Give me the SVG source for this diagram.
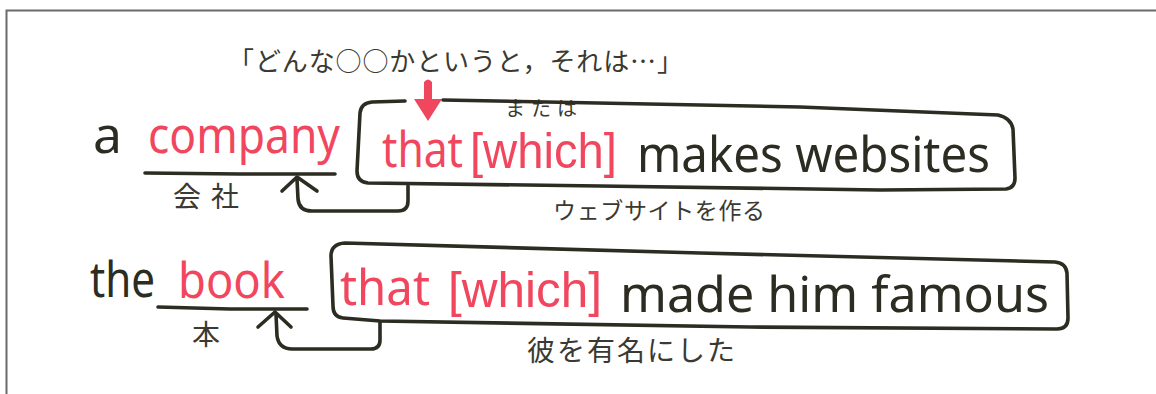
<svg xmlns="http://www.w3.org/2000/svg" width="1156" height="394" viewBox="0 0 1156 394">
<style>
.en{font-family:"Noto Sans","Liberation Sans",sans-serif;font-size:50px;}
.br{font-family:"Liberation Sans","Noto Sans",sans-serif;font-size:50px;}
.red{fill:#f0475f;}
.blk{fill:#2c2c22;}
.jp{font-family:"Noto Sans CJK JP","Noto Sans",sans-serif;fill:#3a3a32;}
.ln{fill:none;stroke:#2c2c22;stroke-width:3.6;stroke-linecap:round;stroke-linejoin:round;}
</style>
<rect x="0" y="0" width="1156" height="394" fill="#ffffff"/>
<rect x="6.5" y="10.5" width="1170" height="400" fill="none" stroke="#6a6a6a" stroke-width="2"/>

<g id="header">
<text class="jp" x="228" y="71" font-size="26" textLength="455" lengthAdjust="spacing">「どんな○○かというと，それは…」</text>
<path d="M424,82 Q428,77 432,82 L432,99 L442,99 L428,121 L414,99 L424,99 Z" fill="#f0475f"/>
</g>

<g id="row1-noun">
<text class="en blk" x="93" y="153" textLength="29" lengthAdjust="spacingAndGlyphs">a</text>
<text class="en red" x="148" y="153" textLength="192" lengthAdjust="spacingAndGlyphs">company</text>
<text class="jp" x="173" y="207" font-size="28" textLength="66" lengthAdjust="spacing">会社</text>
</g>

<g id="row1-clause">
<text class="en red" x="382" y="167" textLength="81" lengthAdjust="spacingAndGlyphs">that</text>
<text class="br red" x="470" y="168" textLength="147" lengthAdjust="spacingAndGlyphs">[which]</text>
<text class="en blk" x="637" y="172" textLength="353" lengthAdjust="spacingAndGlyphs">makes websites</text>
<text class="jp" x="505" y="116" font-size="20" textLength="72" lengthAdjust="spacing">または</text>
<text class="jp" x="553" y="219" font-size="23" textLength="212" lengthAdjust="spacing">ウェブサイトを作る</text>
</g>

<g id="row2-noun">
<text class="en blk" x="90" y="297" textLength="65" lengthAdjust="spacingAndGlyphs">the</text>
<text class="en red" x="178" y="298" textLength="107" lengthAdjust="spacingAndGlyphs">book</text>
<text class="jp" x="192" y="345" font-size="28">本</text>
</g>

<g id="row2-clause">
<text class="en red" x="340" y="305" textLength="90" lengthAdjust="spacingAndGlyphs">that</text>
<text class="br red" x="448" y="307" textLength="154" lengthAdjust="spacingAndGlyphs">[which]</text>
<text class="en blk" x="620" y="312" textLength="429" lengthAdjust="spacingAndGlyphs">made him famous</text>
<text class="jp" x="527" y="361" font-size="28" textLength="208" lengthAdjust="spacing">彼を有名にした</text>
</g>

<g id="connectors">
<path class="ln" d="M145,173 L240,174 L335,174"/>
<path class="ln" d="M405,101 L372,102 Q361,103 360,113 L357,171 Q357,182 368,183 L600,186 L880,190 L1006,189 Q1015,188 1015,178 L1013,129 Q1011,118 998,115 L800,107 L443,100"/>
<path class="ln" d="M297,179 L298,199 Q299,211 312,211 L398,211 Q408,211 408,201 L408,186"/>
<path class="ln" d="M282,191 L297,177 L317,191"/>
<path class="ln" d="M158,307 L230,309 L307,309"/>
<path class="ln" d="M345,243 L700,253 L1055,262 Q1066,263 1067,273 L1068,318 Q1068,329 1057,329 L750,327 L380,321 L343,318 Q333,317 333,306 L331,256 Q331,244 345,243 Z"/>
<path class="ln" d="M276,314 L277,336 Q279,349 292,349 L371,349 Q380,349 380,340 L380,322"/>
<path class="ln" d="M258,327 L275,312 L291,327"/>
</g>
</svg>
